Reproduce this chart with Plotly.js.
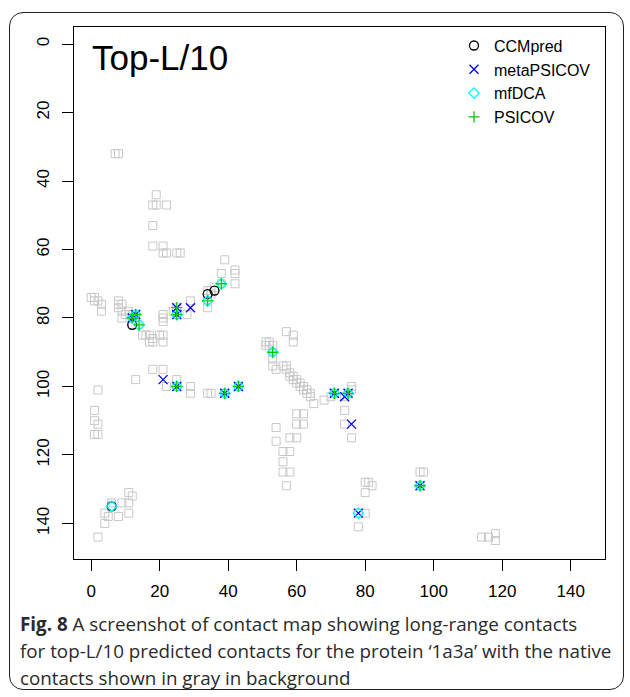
<!DOCTYPE html>
<html>
<head>
<meta charset="utf-8">
<script src="https://cdn.plot.ly/plotly-3.0.1.min.js"></script>
<style>
  html, body { margin: 0; padding: 0; background: #ffffff; }
  #wrap { position: relative; width: 630px; height: 697px; }
  #chart { position: absolute; left: 0; top: 0; width: 630px; height: 697px; }
  #frame { position: absolute; left: 9px; top: 12px; width: 613px; height: 676px;
           border: 1.5px solid #222; border-radius: 14px; pointer-events: none; }
</style>
</head>
<body>
<div id="wrap">
  <div id="chart"></div>
  <div id="frame"></div>
</div>
<script>
// Native contacts (gray background squares): residue i (x) and residue j (y)
const nativeX = [7,8,19,18,19,22,18,18,21,21,22,25,26,39,38,42,42,38,42,34,35,36,34,35,34,34,29,28,25,25,24,21,21,21,
  0,1,1,2,3,3,8,8,9,8,9,10,9,11,12,13,12,14,12,15,16,17,17,18,18,20,21,21,
  13,18,21,22,25,25,29,29,34,35,39,43,2,1,1,2,1,2,
  51,52,51,52,53,53,57,59,59,53,53,54,56,57,57,58,58,59,59,60,60,61,61,62,62,63,63,64,64,
  65,68,70,71,75,76,76,74,74,74,76,60,62,60,62,58,60,54,54,56,58,56,56,58,57,
  80,81,82,80,96,97,96,78,80,78,114,116,118,118,
  11,12,11,6,9,6,11,8,4,5,4,2];
const nativeY = [32,32,44,47,47,47,53,59,59,61,61,61,61,63,67,66,67,70,70,72,72,71,73,73,75,77,75,79,77,79,78,79,80,81,
  74,74,75,75,76,78,75,76,76,77,78,79,80,78,79,79,80,82,82,85,85,85,87,86,87,85,85,87,
  98,95,95,100,98,100,100,102,102,102,102,100,101,107,110,111,114,114,
  87,87,88,88,88,90,84,85,87,92,94,95,94,94,95,96,97,97,98,98,99,99,100,100,101,101,102,102,103,
  105,104,103,102,102,100,101,103,107,111,115,108,108,111,111,115,115,112,116,119,119,122,125,125,129,
  128,128,129,131,125,125,129,137,137,141,144,144,143,145,
  131,132,134,134,134,135,137,138,137,138,140,144];

// Predicted contacts (top-L/10) per method
const ccmX = [12,34,36,6];
const ccmY = [82,73,72,135];
const metaX = [13,12,25,25,29,21,25,39,43,71,75,74,76,96,78];
const metaY = [79,80,77,79,77,98,100,102,100,102,102,103,111,129,137];
const mfdcaX = [13,12,14,25,34,38,53,25,39,43,71,75,96,78,6];
const mfdcaY = [79,80,82,79,75,70,90,100,102,100,102,102,129,137,135];
const psicovX = [13,12,14,25,25,34,38,53,25,39,43,71,75,96];
const psicovY = [79,80,82,77,79,75,70,90,100,102,100,102,102,129];

const tickVals = [0,20,40,60,80,100,120,140];
const tickText = ["0","20","40","60","80","100","120","140"];
const seriesNames = ["CCMpred","metaPSICOV","mfDCA","PSICOV"];

const axisFont = {family: "Liberation Sans, Arial, sans-serif", size: 17, color: "#000"};

const traces = [
  {x: nativeX, y: nativeY, type: "scatter", mode: "markers", showlegend: false, hoverinfo: "skip",
   marker: {symbol: "square-open", size: 8, color: "#c8c8c8", line: {width: 1, color: "#c8c8c8"}}},
  {x: ccmX, y: ccmY, type: "scatter", mode: "markers", name: seriesNames[0],
   marker: {symbol: "circle-open", size: 9, color: "#000000", line: {width: 1.3, color: "#000000"}}},
  {x: metaX, y: metaY, type: "scatter", mode: "markers", name: seriesNames[1],
   marker: {symbol: "x-thin-open", size: 9, color: "#0000ff", line: {width: 1.3, color: "#0000ff"}}},
  {x: mfdcaX, y: mfdcaY, type: "scatter", mode: "markers", name: seriesNames[2],
   marker: {symbol: "diamond-open", size: 8, color: "#00ffff", line: {width: 1.3, color: "#00ffff"}}},
  {x: psicovX, y: psicovY, type: "scatter", mode: "markers", name: seriesNames[3],
   marker: {symbol: "cross-thin-open", size: 8, color: "#00cd00", line: {width: 1.3, color: "#00cd00"}}}
];

const capFont = {family: "Open Sans, Noto Sans, sans-serif", size: 18.8, color: "#2a2a2a"};

const layout = {
  width: 630, height: 697,
  margin: {l: 74, r: 25, t: 27, b: 138, pad: 0},
  paper_bgcolor: "#ffffff", plot_bgcolor: "#ffffff",
  showlegend: true,
  xaxis: {range: [-5, 150], tickmode: "array", tickvals: tickVals, ticktext: tickText,
          ticks: "outside", ticklen: 11, tickwidth: 1, tickcolor: "#000",
          showline: true, mirror: true, linecolor: "#000", linewidth: 1,
          showgrid: false, zeroline: false, tickfont: axisFont, ticklabelstandoff: 6},
  yaxis: {range: [150.4, -5], tickmode: "array", tickvals: tickVals, ticktext: tickText,
          ticks: "outside", ticklen: 11, tickwidth: 1, tickcolor: "#000", tickangle: -90,
          showline: true, mirror: true, linecolor: "#000", linewidth: 1,
          showgrid: false, zeroline: false, tickfont: axisFont, ticklabelstandoff: 6},
  legend: {x: 0.7156, y: 0.997, xanchor: "left", yanchor: "top", bgcolor: "rgba(0,0,0,0)",
           font: {family: "Liberation Sans, Arial, sans-serif", size: 16, color: "#000"},
           tracegroupgap: 0, itemclick: false},
  annotations: [
    {text: "Top-L/10", xref: "paper", yref: "paper", x: 0.03, y: 0.942, xanchor: "left", yanchor: "middle",
     showarrow: false, font: {family: "Liberation Sans, Arial, sans-serif", size: 35, color: "#000"}},
    {text: "<b>Fig. 8</b> A screenshot of contact map showing long-range contacts",
     xref: "paper", yref: "paper", x: (18-74)/531, y: 1-(624-27)/532, xanchor: "left", yanchor: "middle",
     showarrow: false, align: "left", font: capFont},
    {text: "for top-L/10 predicted contacts for the protein \u20181a3a\u2019 with the native",
     xref: "paper", yref: "paper", x: (18-74)/531, y: 1-(651-27)/532, xanchor: "left", yanchor: "middle",
     showarrow: false, align: "left", font: capFont},
    {text: "contacts shown in gray in background",
     xref: "paper", yref: "paper", x: (18-74)/531, y: 1-(678-27)/532, xanchor: "left", yanchor: "middle",
     showarrow: false, align: "left", font: capFont}
  ]
};

Plotly.newPlot("chart", traces, layout, {displayModeBar: false, staticPlot: true});
</script>
</body>
</html>
